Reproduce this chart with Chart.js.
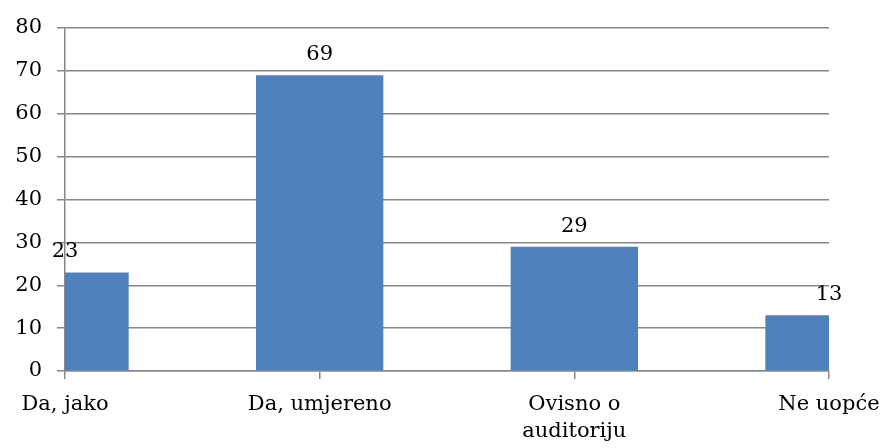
<!DOCTYPE html>
<html>
<head>
<meta charset="utf-8">
<script src="https://cdn.jsdelivr.net/npm/chart.js@4"></script>
<style>
  html, body { margin: 0; padding: 0; background: #fff; }
  #wrap { width: 884px; height: 448px; }
</style>
</head>
<body>
<div id="wrap"><canvas id="barGraph" width="884" height="448"></canvas></div>
<script>
// Chart data
var categories = ['Da, jako', 'Da, umjereno', ['Ovisno o', 'auditoriju'], 'Ne uopće'];
var answerCounts = [23, 69, 29, 13];
var yTicks = [0, 10, 20, 30, 40, 50, 60, 70, 80];

var gridColor = '#878787';
var fontFamily = '"DejaVu Serif", "Liberation Serif", serif';

// Draws the value above each bar
var valueLabels = {
    id: 'valueLabels',
    afterDatasetsDraw: function (chart) {
        var ctx = chart.ctx;
        var meta = chart.getDatasetMeta(0);
        ctx.save();
        ctx.fillStyle = '#000';
        ctx.font = '21px ' + fontFamily;
        ctx.textAlign = 'center';
        ctx.textBaseline = 'bottom';
        meta.data.forEach(function (bar, i) {
            ctx.fillText(String(answerCounts[i]), bar.x, bar.y - 10);
        });
        ctx.restore();
    }
};

var canvas = document.getElementById('barGraph');

var barGraph = new Chart(canvas, {
    type: 'bar',
    data: {
        labels: categories,
        datasets: [{
            data: answerCounts,
            backgroundColor: '#4F81BD',
            borderWidth: 0,
            barPercentage: 1,
            categoryPercentage: 0.5
        }]
    },
    options: {
        responsive: false,
        maintainAspectRatio: false,
        animation: false,
        layout: {
            padding: { top: 28, right: 55, left: 0, bottom: 0 }
        },
        scales: {
            x: {
                offset: false,
                grid: {
                    offset: false,
                    display: true,
                    drawOnChartArea: false,
                    drawTicks: true,
                    tickLength: 8,
                    color: gridColor,
                    lineWidth: 1.5
                },
                border: { display: true, color: gridColor, width: 1.5 },
                ticks: {
                    color: '#000',
                    padding: 12,
                    maxRotation: 0,
                    autoSkip: false,
                    font: { family: fontFamily, size: 21, lineHeight: 1.3 }
                },
                afterFit: function (scale) {
                    scale.height = 77;
                    scale.paddingLeft = 0;
                    scale.paddingRight = 0;
                }
            },
            y: {
                min: 0,
                max: 80,
                afterBuildTicks: function (scale) {
                    scale.ticks = yTicks.map(function (v) { return { value: v }; });
                },
                grid: {
                    color: gridColor,
                    lineWidth: 1.5,
                    tickLength: 8
                },
                border: { display: true, color: gridColor, width: 1.5 },
                ticks: {
                    color: '#000',
                    padding: 15,
                    font: { family: fontFamily, size: 21 }
                },
                afterFit: function (scale) { scale.width = 65; }
            }
        },
        plugins: {
            legend: { display: false },
            tooltip: { enabled: false }
        }
    },
    plugins: [valueLabels]
});
</script>
</body>
</html>
